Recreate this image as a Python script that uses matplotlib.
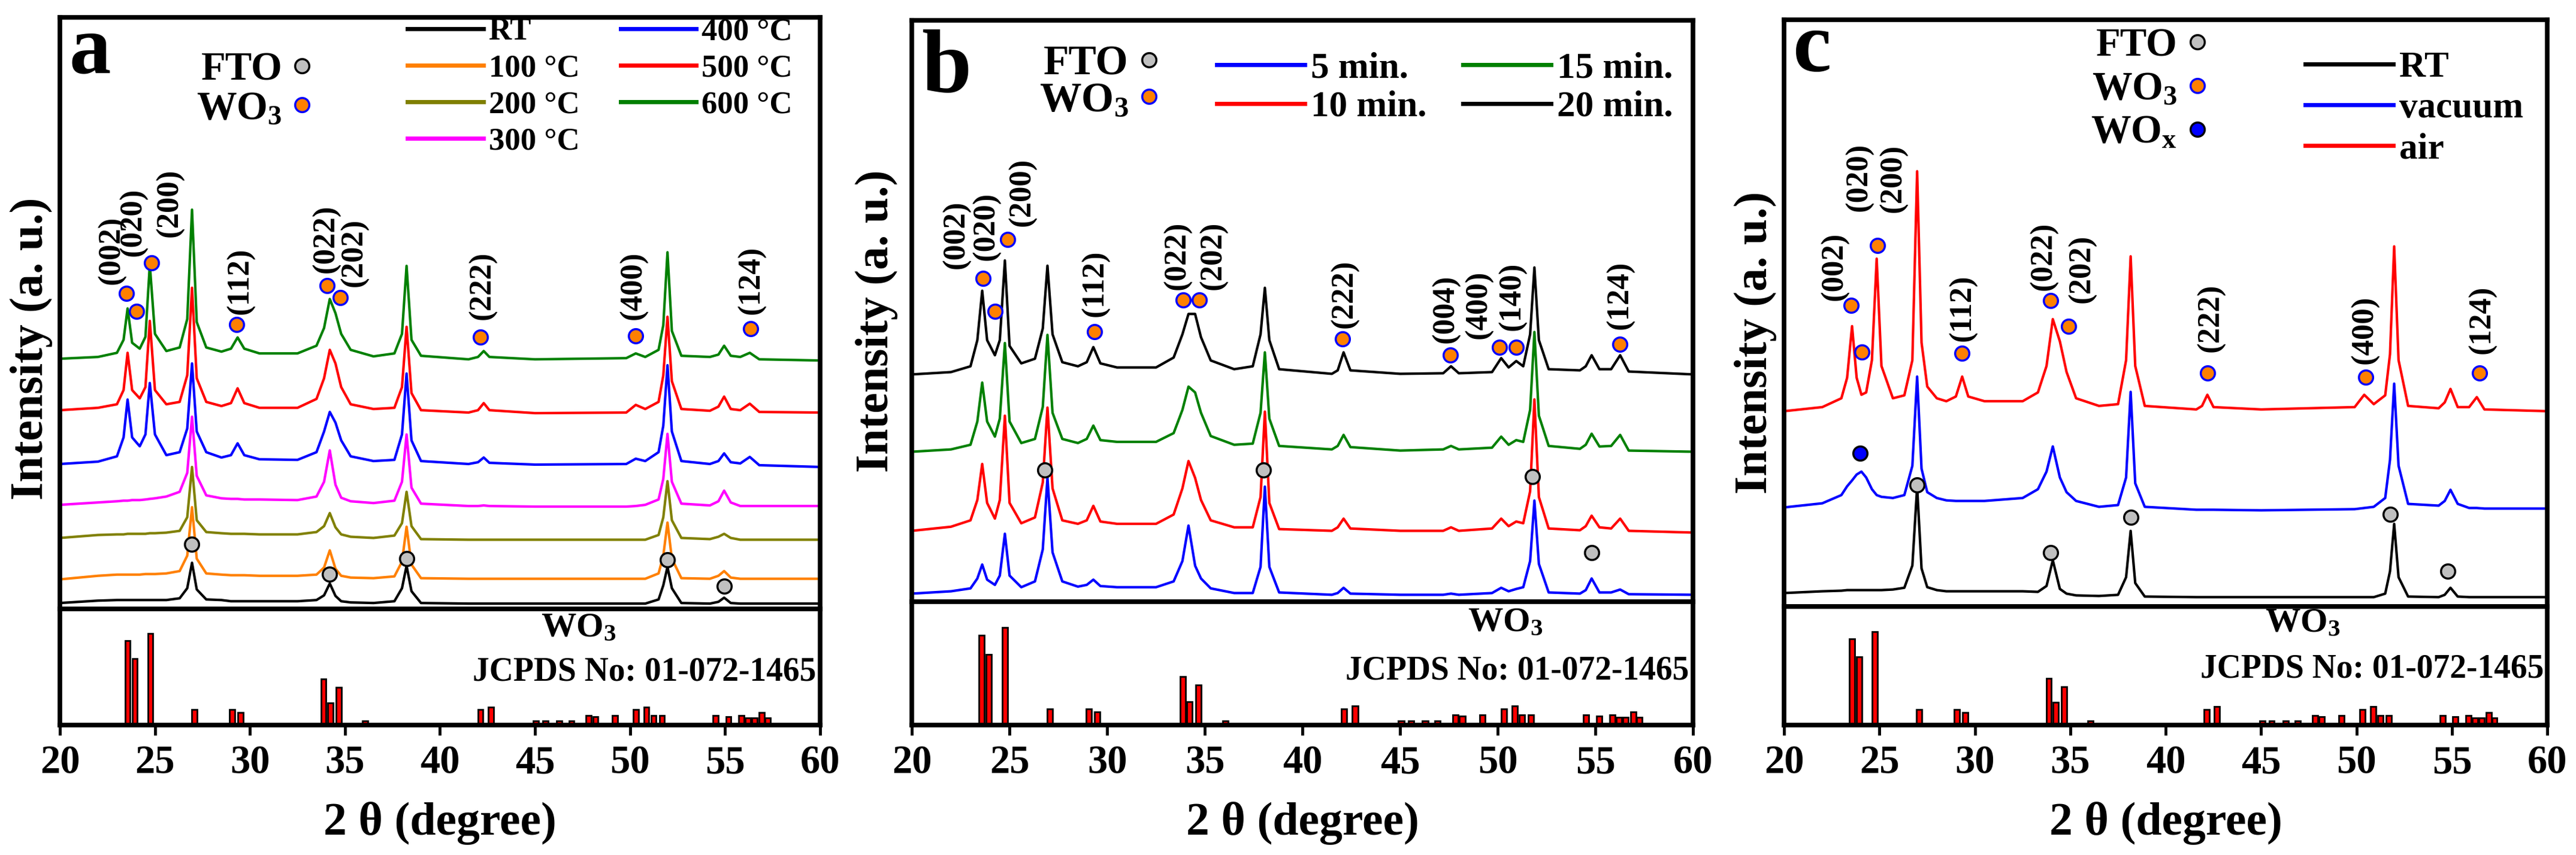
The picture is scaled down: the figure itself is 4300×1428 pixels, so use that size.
import matplotlib.pyplot as plt
import matplotlib.transforms as mtransforms
from matplotlib.lines import Line2D

plt.rcParams['font.family'] = 'Liberation Serif'
plt.rcParams['font.weight'] = 'bold'
plt.rcParams['axes.labelweight'] = 'bold'
plt.rcParams['mathtext.fontset'] = 'custom'
plt.rcParams['mathtext.rm'] = 'Liberation Serif:bold'
plt.rcParams['mathtext.it'] = 'Liberation Serif:bold'
plt.rcParams['mathtext.bf'] = 'Liberation Serif:bold'

# ---------------- panel a: annealing temperature ----------------
xa = [20.0, 22.0, 23.0, 23.35, 23.56, 23.8, 24.2, 24.5, 24.73, 25.0, 25.6, 26.3, 26.7, 26.95,
      27.2, 27.7, 28.5, 29.0, 29.35, 29.7, 30.5, 32.5, 33.5, 33.9, 34.2, 34.5, 34.8, 35.3,
      36.5, 37.6, 38.0, 38.24, 38.5, 39.0, 41.5, 42.0, 42.3, 42.6, 45.0, 49.8, 50.3, 50.8,
      51.5, 51.75, 51.97, 52.2, 52.7, 54.2, 54.65, 54.95, 55.3, 55.8, 56.3, 56.8, 60.0]
a_rt = [1.0, 1.4, 1.5, 1.5, 1.5, 1.5, 1.5, 1.5, 1.5, 1.5, 1.5, 1.8, 3.5, 7.8,
        3.3, 1.6, 1.5, 1.3, 1.3, 1.3, 1.3, 1.3, 1.5, 2.3, 4.3, 2.2, 1.3, 1.1,
        1.0, 1.3, 3.5, 7.3, 3.0, 1.0, 0.9, 0.9, 0.9, 0.9, 0.9, 0.9, 0.9, 0.9,
        1.6, 4.0, 7.1, 3.5, 1.0, 0.9, 1.2, 1.9, 1.0, 0.9, 0.9, 0.9, 0.9]
a_100 = [5.0, 5.6, 5.8, 5.8, 5.8, 5.8, 5.8, 5.9, 5.9, 5.9, 6.0, 6.4, 9.0, 17.2,
         8.5, 6.0, 5.8, 5.7, 5.7, 5.7, 5.6, 5.6, 5.8, 7.0, 9.9, 6.8, 5.6, 5.3,
         5.2, 5.5, 8.0, 13.9, 7.5, 5.2, 5.1, 5.1, 5.1, 5.1, 5.1, 5.1, 5.1, 5.1,
         6.0, 9.0, 14.6, 8.5, 5.2, 5.1, 5.6, 6.4, 5.3, 5.1, 5.1, 5.1, 5.1]
a_200 = [12.0, 12.5, 12.6, 12.6, 12.7, 12.7, 12.7, 12.7, 12.8, 12.8, 12.9, 13.2, 15.5, 24.0,
         15.0, 13.0, 12.8, 12.7, 12.7, 12.7, 12.6, 12.6, 13.0, 14.0, 16.2, 13.8, 12.6, 12.2,
         12.0, 12.4, 14.5, 19.8, 14.0, 11.8, 11.7, 11.7, 11.7, 11.7, 11.7, 11.7, 11.7, 11.7,
         12.5, 15.5, 21.6, 15.0, 12.0, 11.8, 12.2, 12.7, 12.0, 11.7, 11.7, 11.7, 11.7]
a_300 = [17.6, 18.0, 18.2, 18.3, 18.3, 18.4, 18.4, 18.5, 18.6, 18.7, 19.0, 19.8, 23.0, 32.5,
         22.5, 19.2, 18.7, 18.6, 18.6, 18.5, 18.5, 18.4, 19.0, 21.5, 26.8, 21.0, 18.8, 18.2,
         17.9, 18.3, 21.5, 29.5, 20.5, 17.8, 17.4, 17.4, 17.5, 17.4, 17.3, 17.3, 17.4, 17.6,
         18.5, 22.0, 29.6, 21.5, 17.8, 17.5, 18.2, 20.0, 18.0, 17.4, 17.4, 17.4, 17.4]
a_400 = [24.5, 24.9, 25.8, 29.0, 35.4, 29.0, 27.5, 29.5, 38.2, 29.5, 26.0, 26.5, 30.5, 41.5,
         30.0, 26.5, 25.6, 26.0, 28.0, 26.0, 25.3, 25.2, 26.5, 30.0, 33.3, 31.5, 28.5, 25.8,
         25.0, 25.2, 29.5, 39.8, 28.5, 25.0, 24.5, 24.8, 25.6, 24.7, 24.4, 24.5, 25.4, 25.0,
         26.5, 31.0, 41.2, 30.0, 25.0, 24.5, 25.0, 26.3, 24.8, 24.6, 25.7, 24.3, 24.0]
a_500 = [33.6, 34.0, 34.6, 37.0, 43.3, 37.0, 35.6, 37.5, 48.7, 37.0, 34.6, 35.0, 39.5, 54.3,
         39.0, 35.0, 34.3, 34.8, 37.3, 34.8, 34.0, 34.0, 35.5, 39.0, 43.8, 41.5, 37.5, 34.6,
         33.8, 34.0, 37.5, 47.7, 36.5, 33.6, 33.2, 33.6, 34.8, 33.6, 33.1, 33.2, 34.5, 33.8,
         35.0, 39.5, 49.4, 38.5, 33.8, 33.5, 34.2, 35.9, 33.8, 33.6, 34.7, 33.3, 33.2]
a_600 = [42.3, 42.6, 43.3, 45.5, 50.8, 45.0, 44.0, 46.0, 58.2, 46.5, 43.6, 44.2, 49.0, 67.5,
         48.5, 44.2, 43.5, 44.0, 45.9, 44.0, 43.2, 43.2, 44.5, 47.5, 52.4, 50.0, 46.5, 43.8,
         42.7, 43.2, 46.5, 58.0, 45.5, 42.8, 42.2, 42.6, 43.6, 42.6, 42.2, 42.4, 43.2, 42.6,
         43.8, 48.0, 60.3, 47.0, 42.8, 42.6, 43.0, 44.5, 42.8, 42.6, 43.3, 42.2, 42.0]
a_labels = ['RT', '100 °C', '200 °C', '300 °C', '400 °C', '500 °C', '600 °C']
a_colors = ['black', '#FF8000', '#808000', '#FF00FF', '#0000FF', '#FF0000', '#008000']

a_fto_x = [26.95, 34.2, 38.24, 51.97, 54.95]
a_fto_y = [10.9, 5.9, 8.5, 8.3, 3.8]
a_wo3_x = [23.5, 24.03, 24.82, 29.3, 34.07, 34.74, 42.13, 50.28, 56.35]
a_wo3_y = [53.3, 50.3, 58.5, 48.1, 54.7, 52.6, 46.0, 46.2, 47.4]
a_hkl = ['(002)', '(020)', '(200)', '(112)', '(022)', '(202)', '(222)', '(400)', '(124)']
a_hkl_x = [22.72, 23.85, 25.8, 29.5, 34.0, 35.5, 42.25, 50.2, 56.4]
a_hkl_y = [54.9, 59.6, 62.9, 49.8, 56.8, 54.5, 48.9, 48.9, 49.8]

# ---------------- panel b: deposition time ----------------
xb = [20.0, 22.0, 23.0, 23.35, 23.6, 23.85, 24.25, 24.5, 24.76, 25.0, 25.6, 26.3, 26.7, 26.94,
      27.2, 27.7, 28.5, 28.95, 29.29, 29.65, 30.5, 32.5, 33.4, 33.85, 34.16, 34.5, 34.8, 35.3,
      36.5, 37.45, 37.85, 38.07, 38.3, 38.8, 41.5, 41.8, 42.1, 42.45, 45.0, 47.2, 47.6, 48.0,
      49.7, 50.17, 50.55, 50.94, 51.3, 51.65, 51.87, 52.1, 52.6, 54.2, 54.5, 54.8, 55.2, 55.8,
      56.26, 56.7, 60.0]
b_5 = [1.4, 1.8, 2.3, 4.0, 6.4, 3.8, 2.9, 4.5, 11.7, 4.5, 2.5, 3.5, 9.0, 21.3,
       8.5, 3.5, 2.6, 2.9, 3.8, 2.7, 2.5, 2.5, 3.5, 7.0, 13.1, 6.2, 4.0, 2.3,
       1.5, 1.5, 6.0, 19.8, 6.0, 1.6, 1.2, 1.5, 2.4, 1.4, 1.2, 1.2, 1.4, 1.2,
       1.5, 2.4, 1.8, 2.2, 2.5, 7.0, 17.4, 6.5, 1.6, 1.4, 2.0, 4.0, 1.6, 1.6,
       2.1, 1.3, 1.2]
b_10 = [12.2, 12.9, 14.0, 17.5, 23.7, 17.0, 14.3, 17.5, 32.0, 17.0, 13.5, 14.5, 20.5, 33.4,
        19.5, 14.0, 13.4, 14.0, 16.5, 13.8, 13.4, 13.4, 15.0, 19.5, 24.2, 21.3, 17.5, 14.0,
        12.8, 12.8, 18.0, 32.7, 17.0, 12.5, 12.2, 12.8, 14.3, 12.6, 12.2, 12.2, 12.8, 12.2,
        12.6, 14.3, 13.0, 13.8, 13.5, 19.0, 34.8, 18.0, 12.6, 12.3, 13.0, 14.8, 12.8, 12.6,
        14.3, 12.2, 11.9]
b_15 = [25.8, 26.2, 27.0, 31.0, 37.7, 31.0, 28.4, 31.5, 44.5, 31.0, 27.3, 28.0, 33.5, 45.9,
        32.5, 28.0, 27.3, 28.0, 30.3, 27.8, 27.5, 27.5, 29.0, 33.0, 37.0, 36.0, 32.5, 28.5,
        27.0, 27.2, 32.5, 42.9, 31.5, 26.8, 26.2, 26.8, 28.7, 26.6, 26.0, 26.2, 26.8, 26.2,
        26.5, 28.4, 27.0, 27.8, 27.5, 33.0, 46.4, 32.0, 26.8, 26.3, 27.0, 28.9, 26.7, 26.8,
        28.7, 26.0, 25.8]
b_20 = [39.1, 39.5, 40.5, 45.0, 53.5, 45.0, 42.4, 45.0, 58.7, 44.0, 41.0, 41.8, 47.0, 57.8,
        46.0, 41.2, 40.5, 41.2, 43.8, 41.0, 40.3, 40.3, 42.0, 46.0, 49.5, 49.5, 45.5, 41.5,
        40.0, 40.5, 46.0, 54.0, 45.0, 40.0, 39.2, 39.8, 42.9, 39.8, 39.2, 39.3, 40.5, 39.3,
        39.5, 41.9, 40.3, 41.4, 40.5, 46.0, 57.5, 45.0, 40.0, 39.8, 40.5, 42.4, 40.0, 40.0,
        42.4, 39.6, 39.1]
b_labels = ['5 min.', '10 min.', '15 min.', '20 min.']
b_colors = ['#0000FF', '#FF0000', '#008000', 'black']

b_fto_x = [26.8, 37.99, 51.78, 54.8]
b_fto_y = [22.7, 22.7, 21.5, 8.4]
b_wo3_x = [23.63, 24.25, 24.9, 29.35, 33.88, 34.73, 42.04, 47.56, 50.08, 50.93, 56.26]
b_wo3_y = [55.6, 50.0, 62.3, 46.4, 51.9, 51.9, 45.2, 42.4, 43.8, 43.8, 44.3]
b_hkl = ['(002)', '(020)', '(200)', '(112)', '(022)', '(202)', '(222)', '(004)', '(400)', '(140)', '(124)']
b_hkl_x = [22.27, 23.82, 25.67, 29.41, 33.6, 35.44, 42.15, 47.34, 49.04, 50.74, 56.26]
b_hkl_y = [57.3, 58.7, 64.6, 49.0, 53.7, 53.7, 47.1, 44.5, 45.2, 46.7, 46.9]

# ---------------- panel c: annealing atmosphere ----------------
xc = [20.0, 22.0, 23.0, 23.3, 23.56, 23.8, 24.05, 24.3, 24.6, 24.85, 25.1, 25.7, 26.3, 26.72,
      26.97, 27.2, 27.5, 28.0, 28.5, 29.0, 29.33, 29.65, 30.5, 32.5, 33.3, 33.75, 34.08, 34.45,
      34.8, 35.3, 36.5, 37.5, 37.92, 38.16, 38.4, 38.9, 41.6, 41.9, 42.18, 42.5, 45.0, 49.9,
      50.4, 50.9, 51.5, 51.75, 51.97, 52.2, 52.7, 54.3, 54.62, 54.92, 55.3, 55.9, 56.3, 56.7, 60.0]
c_rt = [2.3, 2.6, 2.7, 2.8, 2.8, 2.8, 2.8, 2.8, 2.8, 2.8, 2.8, 2.9, 3.2, 7.0,
        20.4, 6.5, 3.3, 2.8, 2.6, 2.6, 2.6, 2.6, 2.6, 2.6, 2.5, 3.5, 7.9, 3.0,
        2.2, 1.9, 1.8, 2.0, 5.0, 12.9, 4.0, 1.7, 1.6, 1.6, 1.6, 1.6, 1.6, 1.6,
        1.6, 1.6, 2.2, 6.0, 14.1, 5.0, 1.7, 1.6, 2.0, 3.2, 1.7, 1.6, 1.6, 1.6, 1.6]
c_vac = [16.9, 17.6, 19.0, 20.5, 21.5, 22.5, 23.0, 22.0, 20.0, 19.0, 18.7, 18.5, 19.0, 24.0,
         39.2, 23.5, 19.5, 18.5, 18.1, 18.0, 18.0, 18.0, 18.0, 18.5, 20.0, 23.0, 27.3, 22.0,
         19.5, 18.0, 17.0, 17.3, 22.0, 36.6, 21.0, 17.0, 16.5, 16.5, 16.5, 16.5, 16.4, 16.6,
         16.8, 17.0, 18.5, 25.0, 38.0, 24.0, 17.5, 17.2, 18.0, 19.9, 17.5, 16.8, 16.8, 16.7, 16.7]
c_air = [33.3, 34.0, 35.5, 39.0, 47.8, 39.0, 36.1, 36.5, 42.0, 59.3, 41.0, 35.5, 36.0, 42.0,
         74.2, 45.0, 37.5, 35.5, 35.0, 35.8, 39.2, 35.8, 35.0, 35.0, 36.5, 41.0, 49.0, 45.2,
         40.0, 35.5, 34.2, 34.5, 42.0, 59.7, 41.0, 34.2, 33.6, 34.2, 36.1, 34.0, 33.6, 34.0,
         36.1, 34.5, 36.0, 43.0, 61.4, 42.0, 34.2, 33.8, 34.8, 37.1, 34.0, 34.0, 35.7, 33.6, 33.3]
c_labels = ['RT', 'vacuum', 'air']
c_colors = ['black', '#0000FF', '#FF0000']

c_fto_x = [26.97, 33.97, 38.16, 51.77, 54.78]
c_fto_y = [20.7, 9.2, 15.2, 15.7, 6.0]
c_wox_x = [23.99]
c_wox_y = [26.1]
c_wo3_x = [23.5, 24.07, 24.88, 29.33, 33.95, 34.9, 42.18, 50.47, 56.44]
c_wo3_y = [51.3, 43.4, 61.5, 43.2, 52.2, 47.8, 39.8, 39.1, 39.8]
c_hkl = ['(002)', '(020)', '(200)', '(112)', '(022)', '(202)', '(222)', '(400)', '(124)']
c_hkl_x = [22.64, 23.93, 25.74, 29.38, 33.6, 35.61, 42.38, 50.42, 56.59]
c_hkl_y = [52.2, 67.4, 67.2, 45.2, 53.9, 51.8, 43.4, 41.3, 43.1]

# ---------------- JCPDS 01-072-1465 reference lines (same for all panels) ----------------
stick_pos = [23.56, 23.94, 24.76, 27.07, 29.05, 29.49, 33.87, 34.22, 34.66, 36.06, 42.13, 42.69,
             45.05, 45.55, 46.28, 46.92, 47.83, 48.18, 49.2, 50.31, 50.86, 51.24, 51.68, 54.51,
             55.18, 55.85, 56.2, 56.55, 56.93, 57.23]
stick_h = [72.8, 57.4, 79.0, 13.3, 13.3, 10.8, 39.5, 19.0, 32.3, 3.6, 13.3, 15.4,
           3.6, 3.6, 3.6, 3.6, 8.2, 7.2, 8.2, 13.3, 15.4, 8.2, 8.2, 8.2,
           7.2, 8.2, 6.2, 6.2, 10.8, 6.2]

FTO_STYLE = dict(ls='none', marker='o', ms=17, mfc='#C0C0C0', mec='black', mew=2.5)
WO3_STYLE = dict(ls='none', marker='o', ms=17, mfc='#FF8000', mec='#0000FF', mew=2.5)
WOX_STYLE = dict(ls='none', marker='o', ms=17, mfc='#0000FF', mec='black', mew=2.5)


def setup(ax_top, ax_bot, letter, letter_size, letter_y, ylab_x, ylab_y, wo3_x, wo3_y, jc_y):
    for ax in (ax_top, ax_bot):
        ax.set_xlim(20, 60)
        ax.set_ylim(0, 100)
        ax.set_yticks([])
        for s in ax.spines.values():
            s.set_linewidth(5.5)
    ax_top.set_xticks([])
    ax_bot.set_xticks(range(20, 61, 5))
    ax_bot.tick_params(axis='x', direction='out', length=12, width=3.5, labelsize=48, pad=12)
    for lab in ax_bot.get_xticklabels():
        lab.set_fontweight('bold')
    ax_bot.set_xlabel('2 θ (degree)', fontsize=56, fontweight='bold', labelpad=24)
    ax_bot.bar(stick_pos, stick_h, width=0.28, color='red', edgecolor='black', linewidth=2)
    trans = mtransforms.blended_transform_factory(ax_bot.transData, ax_bot.transAxes)
    ax_bot.text(wo3_x, wo3_y, 'WO$_\\mathrm{3}$', transform=trans, fontsize=42,
                ha='center', va='center')
    ax_bot.text(0.995, jc_y, 'JCPDS No: 01-072-1465', transform=ax_bot.transAxes,
                fontsize=40, ha='right', va='center')
    ax_top.set_ylabel('Intensity (a. u.)', fontsize=56, fontweight='bold')
    ax_top.yaxis.set_label_coords(ylab_x, ylab_y)
    ax_top.text(0.012, letter_y, letter, transform=ax_top.transAxes, fontsize=letter_size,
                ha='left', va='baseline')


def hkl_labels(ax, names, xs, ys):
    for n, x, y in zip(names, xs, ys):
        ax.text(x, y, n, rotation=90, ha='center', va='bottom', fontsize=38)


def phase_legend(ax, with_wox, x, y, size, spacing):
    handles = [Line2D([], [], **FTO_STYLE), Line2D([], [], **WO3_STYLE)]
    names = ['FTO', 'WO$_\\mathrm{3}$']
    if with_wox:
        handles.append(Line2D([], [], **WOX_STYLE))
        names.append('WO$_\\mathrm{x}$')
    leg = ax.legend(handles, names, loc='upper left', bbox_to_anchor=(x, y), frameon=False,
                    markerfirst=False, handlelength=0.5, handletextpad=0.25,
                    labelspacing=spacing, borderpad=0, borderaxespad=0, fontsize=size)
    ax.add_artist(leg)


def line_legend(ax, labels, colors, ncol, x, y, size, spacing, colsp):
    handles = [Line2D([], [], color=c, lw=5) for c in colors]
    ax.legend(handles, labels, ncol=ncol, loc='upper left', bbox_to_anchor=(x, y),
              frameon=False, handlelength=2.4, handletextpad=0.17, labelspacing=spacing,
              columnspacing=colsp, borderpad=0, borderaxespad=0, fontsize=size)


fig = plt.figure(figsize=(43, 14.28), dpi=100)

# panel a
ta = fig.add_axes([0.02326, 0.2878, 0.2951, 0.6918])
ba = fig.add_axes([0.02326, 0.1520, 0.2951, 0.1358])
for ys, col in zip([a_rt, a_100, a_200, a_300, a_400, a_500, a_600], a_colors):
    ta.plot(xa, ys, color=col, lw=3)
ta.plot(a_fto_x, a_fto_y, **FTO_STYLE)
ta.plot(a_wo3_x, a_wo3_y, **WO3_STYLE)
hkl_labels(ta, a_hkl, a_hkl_x, a_hkl_y)
setup(ta, ba, 'a', 100, 0.906, -0.0095, 0.44, 47.3, 0.836, 0.456)
phase_legend(ta, False, 0.18, 0.942, 48, 0.06)
line_legend(ta, a_labels, a_colors, 2, 0.457, 1.0, 38, 0.25, 1.3)

# panel b
tb = fig.add_axes([0.3540, 0.2962, 0.3033, 0.6800])
bb = fig.add_axes([0.3540, 0.1520, 0.3033, 0.1442])
for ys, col in zip([b_5, b_10, b_15, b_20], b_colors):
    tb.plot(xb, ys, color=col, lw=3)
tb.plot(b_fto_x, b_fto_y, **FTO_STYLE)
tb.plot(b_wo3_x, b_wo3_y, **WO3_STYLE)
hkl_labels(tb, b_hkl, b_hkl_x, b_hkl_y)
setup(tb, bb, 'b', 108, 0.876, -0.018, 0.483, 50.37, 0.83, 0.44)
phase_legend(tb, False, 0.163, 0.957, 50, -0.05)
line_legend(tb, b_labels, b_colors, 2, 0.390, 0.946, 44, 0.14, 1.0)

# panel c
tc = fig.add_axes([0.6926, 0.2906, 0.2963, 0.6861])
bc = fig.add_axes([0.6926, 0.1520, 0.2963, 0.1386])
for ys, col in zip([c_rt, c_vac, c_air], c_colors):
    tc.plot(xc, ys, color=col, lw=3)
tc.plot(c_fto_x, c_fto_y, **FTO_STYLE)
tc.plot(c_wo3_x, c_wo3_y, **WO3_STYLE)
tc.plot(c_wox_x, c_wox_y, **WOX_STYLE)
hkl_labels(tc, c_hkl, c_hkl_x, c_hkl_y)
setup(tc, bc, 'c', 104, 0.912, -0.0094, 0.45, 47.17, 0.86, 0.47)
phase_legend(tc, True, 0.402, 0.987, 48, 0.18)
line_legend(tc, c_labels, c_colors, 1, 0.683, 0.947, 44, 0.2, 1.0)

fig.savefig('out.png', dpi=100)
